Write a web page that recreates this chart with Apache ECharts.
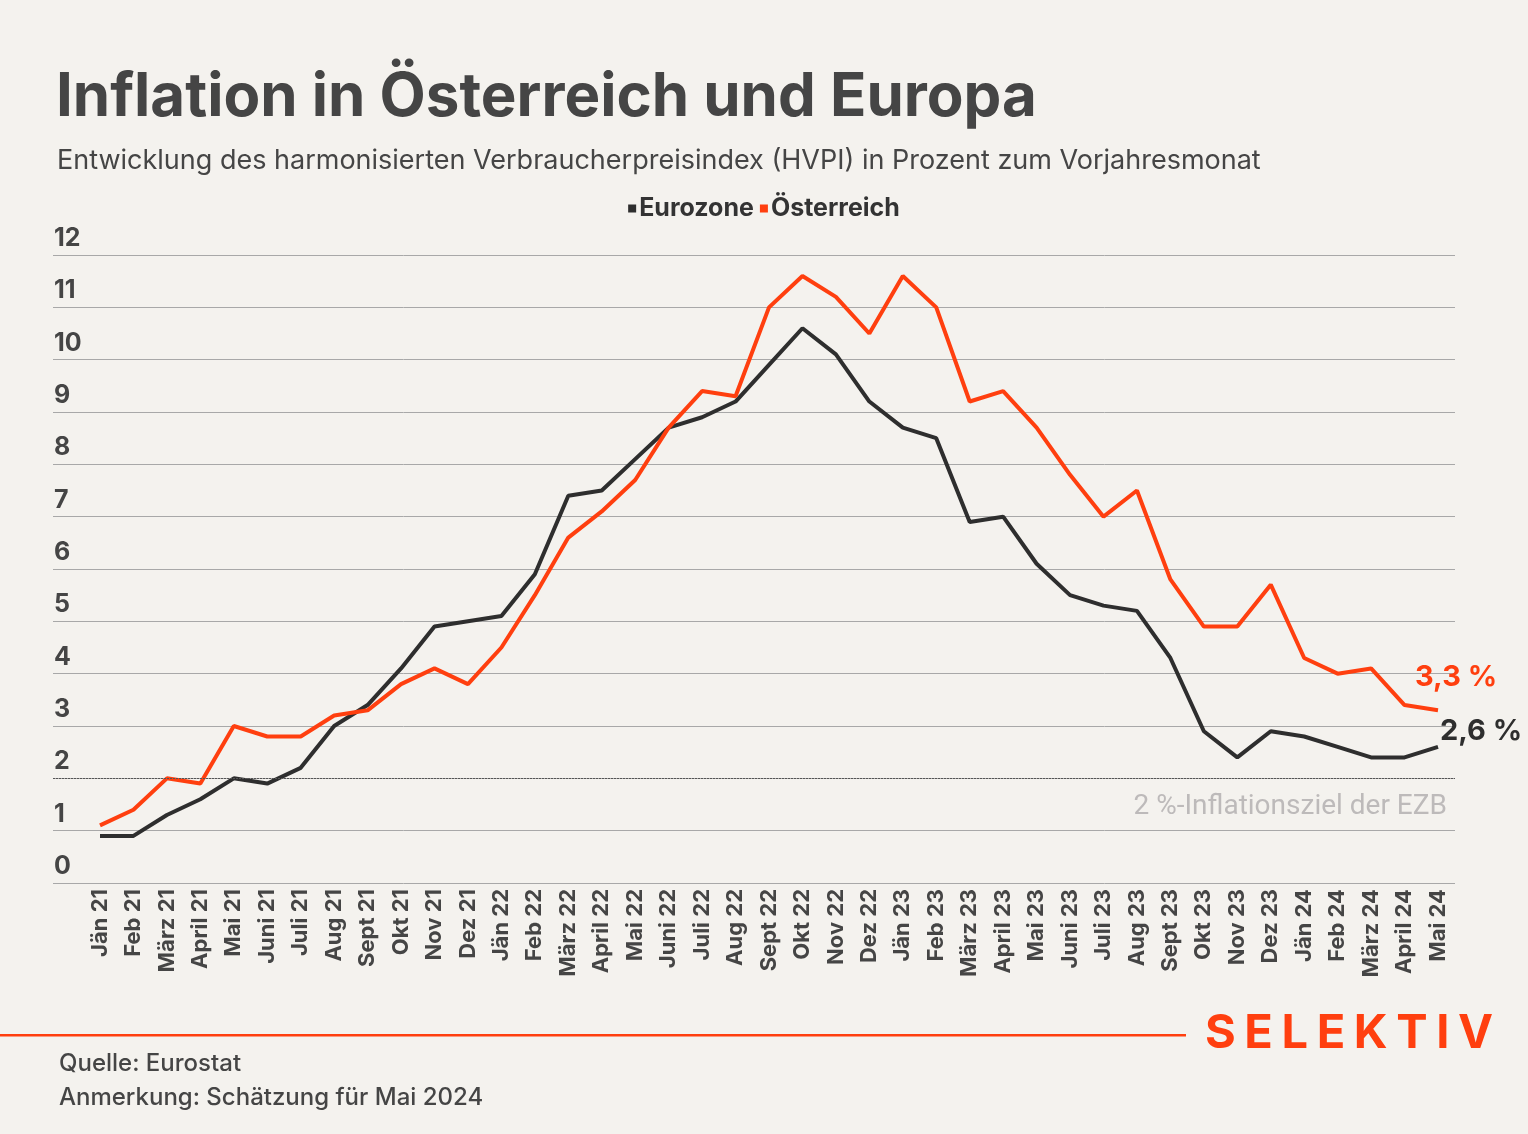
<!DOCTYPE html>
<html><head><meta charset="utf-8">
<script src="https://cdn.jsdelivr.net/npm/echarts@6/dist/echarts.min.js"></script>
<style>html,body{margin:0;padding:0;background:#f4f2ee;}#c{width:1528px;height:1134px;}</style>
</head><body><div id="c"></div>
<script>
const categories = ['Jän 21','Feb 21','März 21','April 21','Mai 21','Juni 21','Juli 21','Aug 21','Sept 21','Okt 21','Nov 21','Dez 21',
'Jän 22','Feb 22','März 22','April 22','Mai 22','Juni 22','Juli 22','Aug 22','Sept 22','Okt 22','Nov 22','Dez 22',
'Jän 23','Feb 23','März 23','April 23','Mai 23','Juni 23','Juli 23','Aug 23','Sept 23','Okt 23','Nov 23','Dez 23',
'Jän 24','Feb 24','März 24','April 24','Mai 24'];
const eurozone = [0.9,0.9,1.3,1.6,2.0,1.9,2.2,3.0,3.4,4.1,4.9,5.0,
5.1,5.9,7.4,7.5,8.1,8.7,8.9,9.2,9.9,10.6,10.1,9.2,
8.7,8.5,6.9,7.0,6.1,5.5,5.3,5.2,4.3,2.9,2.4,2.9,
2.8,2.6,2.4,2.4,2.6];
const oesterreich = [1.1,1.4,2.0,1.9,3.0,2.8,2.8,3.2,3.3,3.8,4.1,3.8,
4.5,5.5,6.6,7.1,7.7,8.7,9.4,9.3,11.0,11.6,11.2,10.5,
11.6,11.0,9.2,9.4,8.7,7.8,7.0,7.5,5.8,4.9,4.9,5.7,
4.3,4.0,4.1,3.4,3.3];
const yTicks = [0,1,2,3,4,5,6,7,8,9,10,11,12];
const targetValue = 2;
const logoText = 'SELEKTIV';

const FONT = 'Inter';
const dark = '#454545';
const red = '#ff3f0f';
const black = '#2e2e2e';

// logo letters with wide tracking
const mc = document.createElement('canvas').getContext('2d');
mc.font = 'bold 47px Inter';
const letters = logoText.split('');
const widths = letters.map(ch => mc.measureText(ch).width);
const totalW = widths.reduce((a, b) => a + b, 0);
const logoLeft = 1205, logoRight = 1493;
const gap = (logoRight - logoLeft - totalW) / (letters.length - 1);
let cx = logoLeft;
const logoEls = letters.map((ch, i) => {
  const el = {type: 'text', x: cx, y: 1010, style: {text: ch, font: 'bold 47px Inter', fill: red}};
  cx += widths[i] + gap;
  return el;
});

const chart = echarts.init(document.getElementById('c'));
const fmt = v => String(v).replace('.', ',') + ' %';
chart.setOption({
  backgroundColor: '#f4f2ee',
  animation: false,
  textStyle: {fontFamily: FONT},
  title: [
    {text: 'Inflation in Österreich und Europa', left: 51, top: 63,
     textStyle: {fontFamily: FONT, fontWeight: 'bold', fontSize: 60, color: dark}},
    {text: 'Entwicklung des harmonisierten Verbraucherpreisindex (HVPI) in Prozent zum Vorjahresmonat', left: 52, top: 142,
     textStyle: {fontFamily: FONT, fontWeight: 'normal', fontSize: 27, color: dark}}
  ],
  legend: {
    top: 191, left: 'center', icon: 'rect', itemWidth: 8, itemHeight: 8, itemGap: 6,
    textStyle: {fontFamily: FONT, fontWeight: 'bold', fontSize: 25, color: '#333', padding: [0,0,0,-2]},
    data: ['Eurozone', 'Österreich']
  },
  grid: [
    {left: 53, right: 73, top: 255, bottom: 251},
    {left: 100, right: 90, top: 255, bottom: 251}
  ],
  xAxis: [
    {type: 'value', gridIndex: 0, min: 0, max: 1, show: false},
    {type: 'category', gridIndex: 1, data: categories, boundaryGap: false,
     axisLine: {show: false}, axisTick: {show: false},
     axisLabel: {rotate: 90, interval: 0, margin: 6, fontFamily: FONT, fontWeight: 'bold', fontSize: 22, color: dark}}
  ],
  yAxis: [
    {type: 'value', gridIndex: 0, min: 0, max: 12, interval: 1,
     axisLine: {show: false}, axisTick: {show: false},
     axisLabel: {inside: true, margin: 1, verticalAlign: 'bottom', padding: [0,0,4,0],
       fontFamily: FONT, fontWeight: 'bold', fontSize: 25, color: dark,
       formatter: v => yTicks.includes(v) ? String(v) : ''},
     splitLine: {lineStyle: {color: '#a8a8a8', width: 1}}},
    {type: 'value', gridIndex: 1, min: 0, max: 12, show: false, splitLine: {show: false}}
  ],
  series: [
    {type: 'line', xAxisIndex: 0, yAxisIndex: 0, data: [[0, targetValue],[1, targetValue]],
     symbol: 'none', lineStyle: {opacity: 0}, silent: true,
     markLine: {symbol: 'none', silent: true,
       lineStyle: {type: [2,1], color: '#555', width: 1},
       label: {position: 'insideEndBottom', formatter: '2 %-Inflationsziel der EZB', distance: [8, 15],
         fontFamily: 'Roboto', fontSize: 28, color: '#bdbaba'},
       data: [{yAxis: targetValue}]}},
    {name: 'Eurozone', type: 'line', xAxisIndex: 1, yAxisIndex: 1, data: eurozone,
     symbol: 'none', color: black, lineStyle: {width: 4, color: black},
     endLabel: {show: true, formatter: p => fmt(p.value), offset: [-6, -16],
       fontFamily: FONT, fontWeight: 'bold', fontSize: 29, color: black}},
    {name: 'Österreich', type: 'line', xAxisIndex: 1, yAxisIndex: 1, data: oesterreich,
     symbol: 'none', color: red, lineStyle: {width: 4, color: red},
     endLabel: {show: true, formatter: p => fmt(p.value), offset: [-31, -33],
       fontFamily: FONT, fontWeight: 'bold', fontSize: 29, color: red}}
  ],
  graphic: [
    {type: 'rect', shape: {x: 0, y: 1034, width: 1186, height: 2.5}, style: {fill: red}},
    ...logoEls,
    {type: 'text', left: 59, top: 1052, style: {text: 'Quelle: Eurostat', fontFamily: FONT, fontWeight: 500, fontSize: 24, fill: dark}},
    {type: 'text', left: 59, top: 1086, style: {text: 'Anmerkung: Schätzung für Mai 2024', fontFamily: FONT, fontWeight: 500, fontSize: 24, fill: dark}}
  ]
});
</script></body></html>
